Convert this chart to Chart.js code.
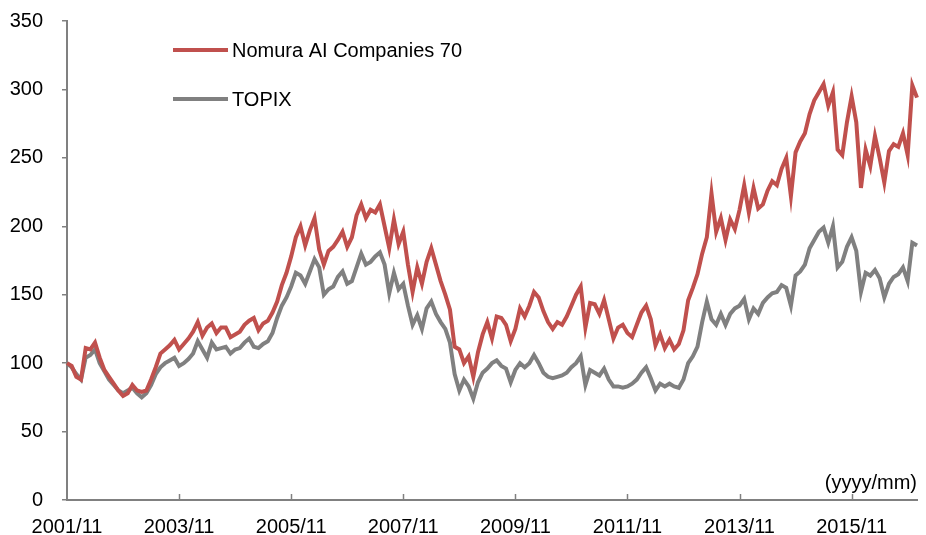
<!DOCTYPE html>
<html>
<head>
<meta charset="utf-8">
<script src="https://cdn.jsdelivr.net/npm/chart.js@4/dist/chart.umd.min.js"></script>
<style>
  html, body { margin: 0; padding: 0; background: #fff; }
  #wrap { width: 926px; height: 535px; }
</style>
</head>
<body>
<div id="wrap"><canvas id="myChart" width="926" height="535"></canvas></div>
<script>
// monthly index values, 2001/11 = 100
const startYear = 2001;
const startMonth = 11;

const nomuraAI = [
  100, 98, 90, 88, 111, 110, 115, 104, 95, 90,
  85, 80, 76, 78, 84, 80, 79, 80, 88, 97,
  107, 110, 113, 117, 110, 114, 118, 123, 130, 120,
  126, 129, 122, 126, 126, 119, 121, 123, 128, 131,
  133, 124, 129, 131, 137, 145, 157, 166, 178, 192,
  200, 186, 197, 206, 183, 172, 182, 185, 190, 196,
  185, 192, 208, 216, 206, 212, 210, 216, 200, 184,
  205, 187, 196, 172, 152, 170, 158, 174, 184, 172,
  160, 150, 139, 112, 110, 100, 105, 90, 108, 121,
  130, 118, 134, 133, 128, 116, 125, 140, 134, 142,
  152, 148, 138, 130, 125, 130, 128, 134, 142, 150,
  156, 126, 144, 143, 136, 146, 132, 118, 126, 128,
  122, 119, 128, 137, 142, 132, 113, 121, 111, 117,
  110, 114, 124, 146, 155, 165, 180, 192, 224, 196,
  206, 190, 205, 198, 212, 230, 210, 228, 213, 216,
  226, 233, 230, 242, 250, 222, 254, 262, 268, 282,
  292, 298, 304, 288, 298, 256, 252, 276, 295, 276,
  228, 256, 244, 266, 250, 232, 255, 260, 258, 268,
  252, 303, 294
];

const topix = [
  100, 97, 92, 88, 104, 106, 110, 100, 94, 88,
  84, 80, 78, 80, 82, 78, 75, 78, 84, 92,
  97, 100, 102, 104, 98, 100, 103, 107, 116, 110,
  104, 115, 110, 111, 112, 107, 110, 111, 115, 118,
  112, 111, 114, 116, 122, 133, 142, 148, 156, 166,
  164, 158, 167, 176, 170, 150, 154, 156, 163, 167,
  158, 160, 170, 180, 172, 174, 178, 181, 172, 151,
  166, 154, 158, 142, 128, 135, 125, 140, 145, 136,
  130, 125, 115, 92, 80, 88, 83, 74, 86, 93,
  96, 100, 102, 98, 96, 86, 95, 100, 97, 100,
  106, 100, 93, 90, 89, 90, 91, 93, 97, 100,
  105, 84, 95, 93, 91, 96, 88, 83, 83, 82,
  83, 85, 88, 93, 97, 89, 80, 85, 83, 85,
  83, 82, 88, 100, 105, 112, 130, 145, 132, 128,
  136, 128, 136, 140, 142, 147, 132, 140, 136, 144,
  148, 151, 152, 157, 155, 142, 164, 167, 172, 184,
  190, 196, 199, 188, 200, 170, 174, 185, 192, 182,
  152, 166, 164, 168, 162, 148, 158, 163, 165, 170,
  160, 188, 186
];

const yTicks = [0, 50, 100, 150, 200, 250, 300, 350];
const tickEvery = 24;

const labels = [];
for (let i = 0; i < nomuraAI.length; i++) {
  const t = (startMonth - 1) + i;
  const y = startYear + Math.floor(t / 12);
  const m = (t % 12) + 1;
  labels.push(y + '/' + (m < 10 ? '0' + m : m));
}

const FONT = "'Liberation Sans', Arial, sans-serif";
const AXIS = '#808080';

// legend, inward x ticks and unit note
const extras = {
  id: 'extras',
  afterDraw(chart) {
    const ctx = chart.ctx;
    const xs = chart.scales.x;
    const bottom = chart.chartArea.bottom;
    ctx.save();
    ctx.strokeStyle = AXIS;
    ctx.lineWidth = 1.5;
    for (let i = tickEvery; i < labels.length; i += tickEvery) {
      const x = Math.round(xs.getPixelForValue(i)) + 0.5;
      ctx.beginPath();
      ctx.moveTo(x, bottom);
      ctx.lineTo(x, bottom - 6);
      ctx.stroke();
    }

    ctx.font = '20px ' + FONT;
    ctx.fillStyle = '#000';
    ctx.textBaseline = 'middle';
    const items = chart.data.datasets;
    for (let i = 0; i < items.length; i++) {
      const y = 50 + i * 49;
      ctx.strokeStyle = items[i].borderColor;
      ctx.lineWidth = 4;
      ctx.beginPath();
      ctx.moveTo(173, y);
      ctx.lineTo(228, y);
      ctx.stroke();
      ctx.fillText(items[i].label, 232, y + 1);
    }

    ctx.textAlign = 'right';
    ctx.textBaseline = 'alphabetic';
    ctx.fillText('(yyyy/mm)', chart.chartArea.right, 489);
    ctx.restore();
  }
};

const canvas = document.getElementById('myChart');
const chart = new Chart(canvas.getContext('2d'), {
  type: 'line',
  data: {
    labels: labels,
    datasets: [{
      label: 'Nomura AI Companies 70',
      data: nomuraAI,
      borderColor: '#C0504D',
      borderWidth: 4,
      pointRadius: 0,
      tension: 0
    }, {
      label: 'TOPIX',
      data: topix,
      borderColor: '#808080',
      borderWidth: 4,
      pointRadius: 0,
      tension: 0
    }]
  },
  options: {
    responsive: false,
    animation: false,
    layout: { padding: { top: 21, right: 9, left: 0, bottom: 0 } },
    plugins: {
      legend: { display: false },
      tooltip: { enabled: false }
    },
    scales: {
      x: {
        type: 'category',
        offset: false,
        grid: { display: false },
        border: { display: true, color: AXIS, width: 2 },
        ticks: {
          autoSkip: false,
          maxRotation: 0,
          minRotation: 0,
          padding: 7,
          color: '#000',
          font: { family: FONT, size: 20 },
          callback: function(v, i) { return i % tickEvery === 0 ? labels[i] : null; }
        },
        afterFit: function(s) { s.height = 35; }
      },
      y: {
        min: 0,
        max: 350,
        afterBuildTicks: function(s) { s.ticks = yTicks.map(v => ({ value: v })); },
        grid: { drawOnChartArea: false, drawTicks: true, tickLength: 5, color: AXIS, lineWidth: 1.5 },
        border: { display: true, color: AXIS, width: 2 },
        ticks: {
          padding: 19,
          color: '#000',
          font: { family: FONT, size: 20 }
        },
        afterFit: function(s) { s.width = 67; s.paddingTop = 0; s.paddingBottom = 0; }
      }
    }
  },
  plugins: [extras]
});
</script>
</body>
</html>
